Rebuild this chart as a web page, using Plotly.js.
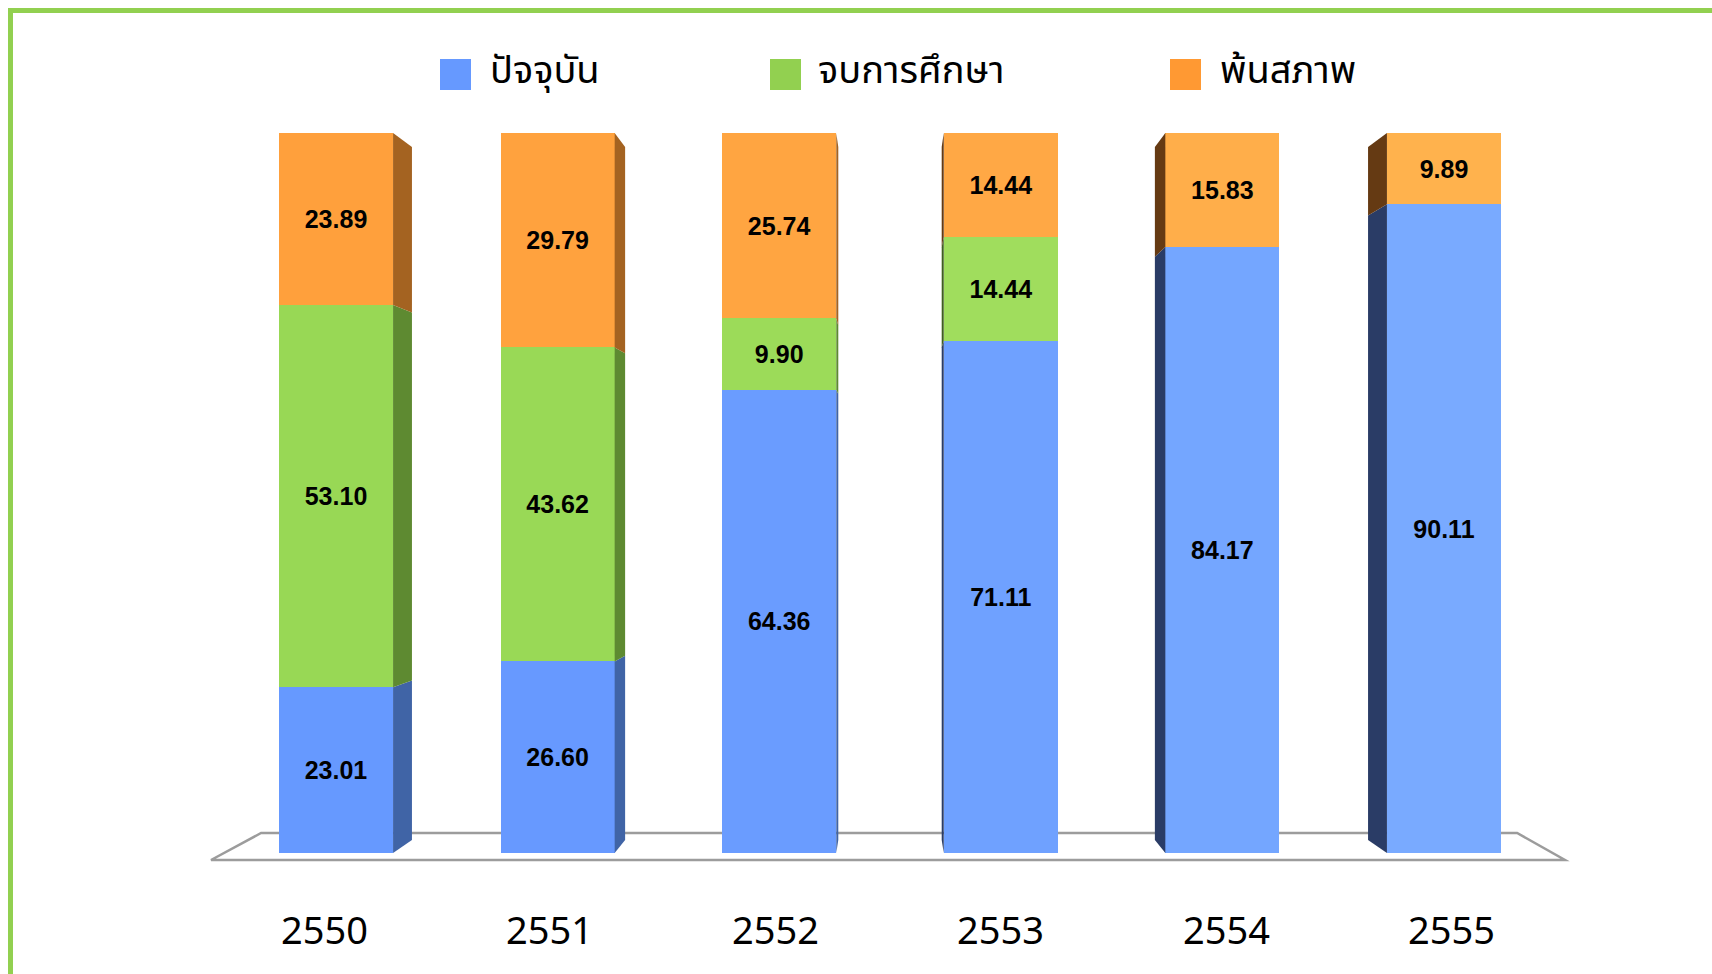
<!DOCTYPE html>
<html>
<head>
<meta charset="utf-8">
<script src="https://cdn.plot.ly/plotly-3.0.1.min.js"></script>
<style>html,body{margin:0;padding:0;background:#fff;}#chart{width:1712px;height:974px;}</style>
</head>
<body>
<div id="chart"></div>
<script>
// ---- data ----
const years = ['2550', '2551', '2552', '2553', '2554', '2555'];
const current = [23.01, 26.60, 64.36, 71.11, 84.17, 90.11];      // ปัจจุบัน
const graduated = [53.10, 43.62, 9.90, 14.44, null, null];        // จบการศึกษา
const retired = [23.89, 29.79, 25.74, 14.44, 15.83, 9.89];        // พ้นสภาพ
const seriesNames = ['ปัจจุบัน', 'จบการศึกษา', 'พ้นสภาพ'];

// ---- styles ----
const frontColors = [
  ['#6699FF', '#6799FF', '#6A9CFF', '#6FA1FF', '#74A6FF', '#79AAFF'],
  ['#98D855', '#99D956', '#9CDB59', '#A0DD5D', '#A2DE60', '#A4DF62'],
  ['#FFA03C', '#FFA23E', '#FFA541', '#FFA845', '#FFAE4A', '#FFB24D']
];
const sideRight = ['#4064A6', '#5E8A31', '#A46321'];
const sideLeft = ['#2A3C66', '#3F5E20', '#653A13'];
const legendColors = ['#6699FF', '#92D050', '#FF9933'];

const n = years.length;
const xs = years.map((_, i) => i);
const barW = 0.515;
const vanish = (n - 1) / 2;
const depthRatio = 0.038;

// axis geometry: 221.6 px per category, first bar centre at 336 px; 7.2 px per unit, zero at 853 px
const W = 1712, H = 974;
const pxPerX = 221.6, x0px = 336, pxPerY = 7.2, y0px = 853;
const xRange = [-x0px / pxPerX, (W - x0px) / pxPerX];
const yRange = [(y0px - H) / pxPerY, y0px / pxPerY];

const fmt = v => (v == null ? '' : v.toFixed(2));
const allSeries = [current, graduated, retired];

const traces = [];
allSeries.forEach((vals, s) => {
  traces.push({
    type: 'bar', x: xs, y: vals, name: seriesNames[s], showlegend: false,
    width: barW,
    marker: { color: frontColors[s], line: { width: 0 } },
    text: vals.map(fmt), textposition: 'inside', insidetextanchor: 'middle',
    constraintext: 'none', textangle: 0,
    textfont: { family: 'Liberation Sans Narrow, Arial Narrow, Liberation Sans, Arial', size: 25, color: '#000', weight: 'bold' },
    hoverinfo: 'skip'
  });
});

// side faces (perspective), derived from the stacked values
const backY = v => 1.806 + 0.9625 * v;
xs.forEach(i => {
  let base = 0;
  const rightSide = i < vanish;
  const edge = rightSide ? i + barW / 2 : i - barW / 2;
  const back = edge + (vanish - edge) * depthRatio;
  allSeries.forEach((vals, s) => {
    const v = vals[i];
    if (v == null || v === 0) return;
    const top = base + v;
    traces.push({
      type: 'scatter', mode: 'lines', fill: 'toself', showlegend: false, hoverinfo: 'skip',
      x: [edge, back, back, edge, edge],
      y: [base, backY(base), backY(top), top, base],
      line: { width: 0 },
      fillcolor: rightSide ? sideRight[s] : sideLeft[s]
    });
    base = top;
  });
});

// floor
const floorPath = `M ${-0.564} ${-0.97} L ${n - 1 + 0.546} ${-0.97} L ${n - 1 + 0.33} ${2.78} L ${-0.338} ${2.78} Z`;

const shapes = [
  { type: 'path', xref: 'x', yref: 'y', path: floorPath, line: { color: '#9C9C9C', width: 2.5 }, fillcolor: 'rgba(0,0,0,0)', layer: 'below' },
  // green frame (top & left visible)
  { type: 'rect', xref: 'paper', yref: 'paper', x0: 10.5 / W, x1: 1.05, y0: -0.05, y1: 1 - 10.5 / H, line: { color: '#92D050', width: 5 }, fillcolor: 'rgba(0,0,0,0)', layer: 'above' }
];

// legend (squares + labels)
const legendSq = [440, 770, 1170];
const legendTxt = [488, 816, 1218];
const annotations = [];
seriesNames.forEach((nm, s) => {
  shapes.push({ type: 'rect', xref: 'paper', yref: 'paper',
    x0: legendSq[s] / W, x1: (legendSq[s] + 31) / W, y0: 1 - 90 / H, y1: 1 - 59 / H,
    fillcolor: legendColors[s], line: { width: 0 } });
  annotations.push({ xref: 'paper', yref: 'paper', x: legendTxt[s] / W, y: 1 - 71 / H,
    xanchor: 'left', yanchor: 'middle', showarrow: false, text: nm,
    font: { family: 'Noto Sans Thai, Noto Sans, Liberation Sans, sans-serif', size: 38, color: '#000' } });
});

// category labels (slightly wider spacing, perspective)
years.forEach((yr, i) => {
  annotations.push({ xref: 'x', yref: 'y', x: vanish + (i - vanish) * 1.0175 - 0.01, y: (y0px - 929) / pxPerY,
    xanchor: 'center', yanchor: 'middle', showarrow: false, text: yr,
    font: { family: 'Noto Sans, Open Sans, sans-serif', size: 38, color: '#000' } });
});

const layout = {
  width: W, height: H,
  margin: { l: 0, r: 0, t: 0, b: 0 },
  paper_bgcolor: '#fff', plot_bgcolor: '#fff',
  barmode: 'stack', bargap: 0,
  showlegend: false,
  xaxis: { range: xRange, visible: false, fixedrange: true },
  yaxis: { range: yRange, visible: false, fixedrange: true },
  shapes: shapes, annotations: annotations
};

Plotly.newPlot('chart', traces, layout, { staticPlot: true });
</script>
</body>
</html>
